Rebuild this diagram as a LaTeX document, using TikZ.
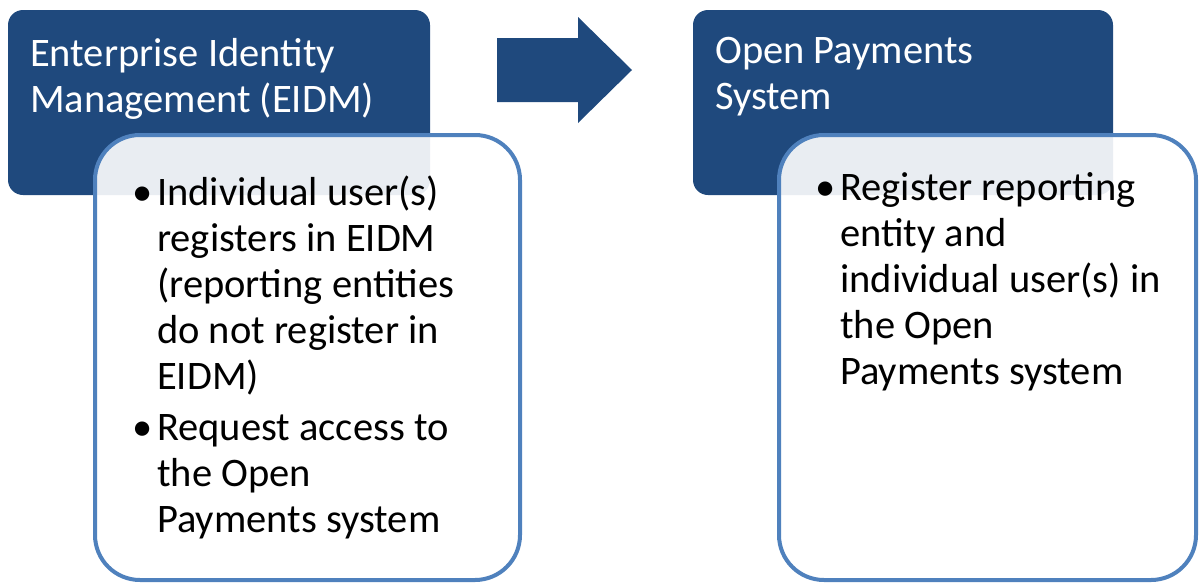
\documentclass[tikz,border=0pt]{standalone}
\usepackage{fontspec}
\setmainfont{Carlito}
\usepackage{tikz}
\usetikzlibrary{positioning}

\definecolor{titleBlue}{HTML}{1F497D}
\definecolor{edgeBlue}{HTML}{4F81BD}

%% lines of a node, with the first line as its baseline
\newcommand{\stepLines}[1]{\begin{tabular}[t]{@{}l@{}}#1\end{tabular}}
\newcommand{\stepBullet}{\llap{\textbullet\hspace{5pt}}}

\begin{document}
\begin{tikzpicture}[x=1pt,y=-1pt,%%
  titleBoxStyle/.style={fill=titleBlue,rounded corners=15pt,inner sep=0pt,
    outer sep=0pt,anchor=north west,minimum width=\tbw pt,minimum height=\tbh pt},%%
  listBoxStyle/.style={draw=edgeBlue,line width=4pt,fill=white,fill opacity=0.9,
    rounded corners=45pt,inner sep=0pt,outer sep=0pt,anchor=north west,
    minimum width=\lbw pt,minimum height=\lbh pt},%%
  titleStyle/.style={text=white,inner sep=0pt,anchor=base west,
    font=\fontsize{40.5}{46}\selectfont},%%
  listStyle/.style={text=black,inner sep=0pt,anchor=base west,
    font=\fontsize{40.5}{46}\selectfont},%%
  arrowStyle/.style={fill=titleBlue}%%
]
%%
%%
\pgfmathsetmacro{\tbw}{422}  %% width of the dark title boxes
\pgfmathsetmacro{\tbh}{185}  %% height of the dark title boxes
\pgfmathsetmacro{\lbw}{425}  %% width of the white list boxes
\pgfmathsetmacro{\lbh}{445}  %% height of the white list boxes
%%
\useasboundingbox (0,0) rectangle (1199,584);
%%
%% The step on the left: EIDM.
\node[titleBoxStyle] (eidmBox) at (8,10) {};
\node[titleStyle] (eidmTitle) at (30,66) {\stepLines{Enterprise Identity\\Management (EIDM)}};
\node[listBoxStyle] (eidmListBox) at (95,135) {};
\node[listStyle] (eidmList) at (157,205) {\stepLines{%
  \stepBullet Individual user(s)\\
  registers in EIDM\\
  (reporting entities\\
  do not register in\\
  EIDM)\\[5pt]
  \stepBullet Request access to\\
  the Open\\
  Payments system}};
%%
%% The arrow between the two steps.
\coordinate (arrowTail) at (497,70);
\coordinate (arrowTip) at (632,70);
\fill[arrowStyle] (arrowTail) ++(0,-32) -- ++(81,0) -- ++(0,-21)
  -- (arrowTip) -- (578,123) -- ++(0,-21) -- ++(-81,0) -- cycle;
%%
%% The step on the right: Open Payments.
\node[titleBoxStyle,minimum width=420pt] (opsBox) at (693,10) {};
\node[titleStyle] (opsTitle) at (715,63) {\stepLines{Open Payments\\System}};
\node[listBoxStyle,minimum width=417pt] (opsListBox) at (779,135) {};
\node[listStyle] (opsList) at (840,200) {\stepLines{%
  \stepBullet Register reporting\\
  entity and\\
  individual user(s) in\\
  the Open\\
  Payments system}};
\end{tikzpicture}
\end{document}
